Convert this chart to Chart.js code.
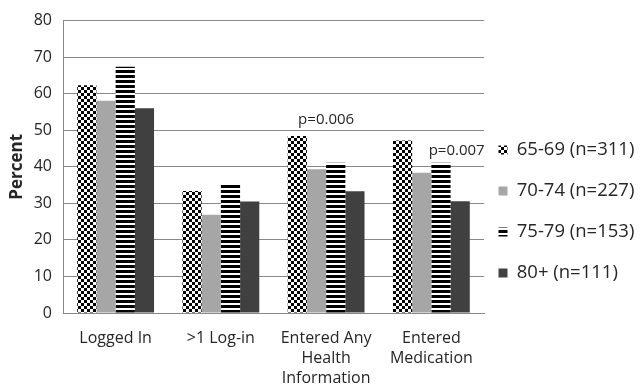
<!DOCTYPE html>
<html><head><meta charset="utf-8">
<script src="https://cdn.jsdelivr.net/npm/chart.js@4/dist/chart.umd.min.js"></script>
<style>html,body{margin:0;padding:0;background:#fff}#wrap{width:640px;height:391px;position:relative}</style>
</head><body><div id="wrap"><canvas id="c"></canvas></div>
<script>
// ---- data ----
const categories = [["Logged In"], [">1 Log-in"], ["Entered Any", "Health", "Information"], ["Entered", "Medication"]];
const seriesNames = ["65-69 (n=311)", "70-74 (n=227)", "75-79 (n=153)", "80+ (n=111)"];
const age6569 = [62.3, 33.4, 48.4, 47.2];
const age7074 = [58.1, 26.9, 39.3, 38.4];
const age7579 = [67.4, 35.2, 41.1, 41.1];
const age80plus = [56.0, 30.5, 33.3, 30.6];
const yMin = 0, yMax = 80, yStep = 10;
const yTitle = "Percent";
const annotTexts = ["p=0.006", "p=0.007"];
const annotCategories = [2, 3];
const annotValues = [53.0, 44.5];

// ---- patterns ----
const canvas = document.getElementById('c');
const ctx0 = canvas.getContext('2d');
function makeChecker() {
  const p = document.createElement('canvas'); p.width = 6; p.height = 6;
  const g = p.getContext('2d');
  g.fillStyle = '#fff'; g.fillRect(0, 0, 6, 6);
  g.fillStyle = '#000'; g.fillRect(0, 0, 3, 3); g.fillRect(3, 3, 3, 3);
  return ctx0.createPattern(p, 'repeat');
}
function makeStripes() {
  const p = document.createElement('canvas'); p.width = 5; p.height = 5;
  const g = p.getContext('2d');
  g.fillStyle = '#fff'; g.fillRect(0, 0, 5, 5);
  g.fillStyle = '#000'; g.fillRect(0, 0, 5, 3);
  return ctx0.createPattern(p, 'repeat');
}
const fills = [makeChecker(), '#a6a6a6', makeStripes(), '#404040'];
const seriesValues = [age6569, age7074, age7579, age80plus];

const FONT = "'Open Sans', 'Liberation Sans', sans-serif";
const TXT = '#262626';
const GRID = '#888';

const annotPlugin = {
  id: 'annot',
  afterDatasetsDraw(chart) {
    const {ctx, scales: {x, y}} = chart;
    const catW = (x.getPixelForValue(1) - x.getPixelForValue(0));
    const xOffsets = [0, 0.24];
    ctx.save();
    ctx.font = "15px " + FONT;
    ctx.fillStyle = TXT;
    ctx.textAlign = 'center';
    ctx.textBaseline = 'middle';
    annotTexts.forEach((t, i) => {
      ctx.fillText(t, x.getPixelForValue(annotCategories[i]) + xOffsets[i] * catW, y.getPixelForValue(annotValues[i]));
    });
    ctx.restore();
  }
};
const legendShift = {
  id: 'legendShift',
  afterLayout(chart) {
    const l = chart.legend;
    l.left -= 8; l.width += 8;
    l.top += 7; l.bottom += 7;
  }
};

new Chart(canvas, {
  type: 'bar',
  data: {
    labels: categories,
    datasets: seriesNames.map((n, i) => ({
      label: n,
      data: seriesValues[i],
      backgroundColor: fills[i],
      borderWidth: 0,
      categoryPercentage: 0.73,
      barPercentage: 1.0
    }))
  },
  options: {
    responsive: true,
    maintainAspectRatio: false,
    animation: false,
    devicePixelRatio: 1,
    layout: {padding: {top: 18, left: 0, right: 0, bottom: 0}},
    plugins: {
      tooltip: {enabled: false},
      legend: {
        position: 'right',
        maxWidth: 156,
        labels: {
          font: {family: FONT, size: 18.5},
          color: TXT,
          boxWidth: 9,
          boxHeight: 9,
          padding: 22.5
        }
      }
    },
    scales: {
      x: {
        grid: {display: false, drawTicks: false},
        border: {display: true, color: GRID, width: 1},
        ticks: {font: {family: FONT, size: 16, lineHeight: 1.25}, color: TXT, padding: 15, maxRotation: 0, autoSkip: false},
        afterFit(s) { s.height = 78; }
      },
      y: {
        min: yMin, max: yMax,
        ticks: {stepSize: yStep, font: {family: FONT, size: 16}, color: TXT, padding: 11},
        grid: {color: GRID, drawTicks: false, lineWidth: 1},
        border: {display: true, color: GRID, width: 1},
        title: {display: true, text: yTitle, font: {family: FONT, size: 17, weight: 'bold'}, color: TXT, padding: {top: 7, bottom: 0}},
        afterFit(s) { s.width = 63; }
      }
    }
  },
  plugins: [annotPlugin, legendShift]
});
</script></body></html>
